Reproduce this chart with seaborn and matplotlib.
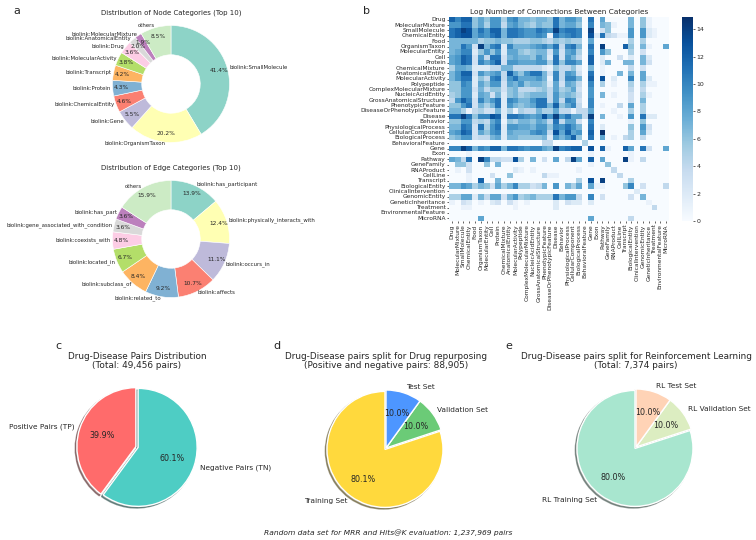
import numpy as np
import pandas as pd
import seaborn as sns
import matplotlib
matplotlib.use("Agg")
import matplotlib.pyplot as plt

FIG_W, FIG_H = 756, 540

# node / edge donuts
node_labels = ["biolink:SmallMolecule", "biolink:OrganismTaxon", "biolink:Gene", "biolink:ChemicalEntity",
               "biolink:Protein", "biolink:Transcript", "biolink:MolecularActivity", "biolink:Drug",
               "biolink:AnatomicalEntity", "biolink:MolecularMixture", "others"]
node_values = [41.4, 20.2, 5.5, 4.6, 4.3, 4.2, 3.8, 3.6, 2.0, 1.9, 8.5]

edge_labels = ["biolink:has_participant", "biolink:physically_interacts_with", "biolink:occurs_in",
               "biolink:affects", "biolink:related_to", "biolink:subclass_of", "biolink:located_in",
               "biolink:coexists_with", "biolink:gene_associated_with_condition", "biolink:has_part", "others"]
edge_values = [13.9, 12.4, 11.1, 10.7, 9.2, 8.4, 6.7, 4.8, 3.6, 3.6, 15.9]

# pies
pairs_labels = ["Positive Pairs (TP)", "Negative Pairs (TN)"]
pairs_values = [39.9, 60.1]
split_labels = ["Training Set", "Validation Set", "Test Set"]
split_values = [80.1, 9.96, 9.96]  # printed 80.1 / 10.0 / 10.0, the rounded ones don't add up to 100
rl_labels = ["RL Training Set", "RL Validation Set", "RL Test Set"]
rl_values = [80.0, 10.0, 10.0]

categories = ["Drug", "MolecularMixture", "SmallMolecule", "ChemicalEntity", "Food", "OrganismTaxon",
              "MolecularEntity", "Cell", "Protein", "ChemicalMixture", "AnatomicalEntity", "MolecularActivity",
              "Polypeptide", "ComplexMolecularMixture", "NucleicAcidEntity", "GrossAnatomicalStructure",
              "PhenotypicFeature", "DiseaseOrPhenotypicFeature", "Disease", "Behavior", "PhysiologicalProcess",
              "CellularComponent", "BiologicalProcess", "BehavioralFeature", "Gene", "Exon", "Pathway",
              "GeneFamily", "RNAProduct", "CellLine", "Transcript", "BiologicalEntity", "ClinicalIntervention",
              "GenomicEntity", "GeneticInheritance", "Treatment", "EnvironmentalFeature", "MicroRNA"]

# log number of connections
log_connections = [
    [12,10,12,12,6,8,6,9,9,5,9,10,7,7,6,7,7,6,11,7,9,9,7,0,11,0,8,0,0,0,0,7,0,6,1,0,0,0],
    [9,9,11,11,6,8,5,9,9,4,8,9,7,6,5,7,6,6,11,7,8,8,6,0,10,0,7,6,1,0,0,7,0,6,1,0,0,0],
    [11,12,14,13,8,11,9,12,12,7,11,11,10,9,9,11,10,9,14,10,11,11,10,0,14,0,3,6,0,0,0,9,0,9,2,1,0,0],
    [11,12,13,13,8,10,9,11,12,7,11,11,10,9,9,10,9,1,11,9,10,11,10,0,13,2,11,4,3,1,1,9,0,9,2,1,0,0],
    [7,7,7,7,7,5,6,6,7,6,6,5,5,5,6,6,5,4,6,5,6,5,5,0,8,0,0,0,0,0,0,5,0,5,0,0,0,0],
    [7,7,11,9,3,14,7,10,11,2,10,7,7,7,8,9,10,8,11,4,10,11,7,0,11,0,14,0,0,0,12,6,0,7,1,0,0,8],
    [7,8,10,10,2,6,9,6,9,2,8,8,6,5,6,7,7,3,9,3,8,9,5,0,10,0,9,6,0,0,0,5,0,3,0,0,0,0],
    [8,9,12,11,3,9,4,11,11,3,7,8,7,7,6,9,7,2,11,3,9,7,4,0,12,0,2,0,0,3,0,2,0,7,2,0,0,0],
    [8,9,12,11,3,10,8,10,12,3,9,9,8,8,8,9,9,5,11,6,10,10,8,0,12,0,2,7,0,0,7,7,0,7,3,0,0,0],
    [5,8,8,7,2,2,2,4,4,7,7,4,4,4,4,4,2,1,6,4,4,6,2,0,7,0,1,0,0,0,0,4,0,3,0,0,0,0],
    [7,9,12,12,3,9,7,8,9,4,12,8,6,9,11,11,7,3,10,4,9,8,3,0,11,0,1,0,0,7,0,7,0,8,0,0,0,0],
    [7,9,11,11,2,6,4,10,11,4,9,11,8,8,8,9,7,1,10,4,10,10,7,0,12,0,13,0,2,0,0,10,0,8,2,0,0,0],
    [6,6,10,9,2,8,6,9,9,3,8,7,9,6,7,7,6,2,8,3,8,7,4,0,10,0,5,0,1,0,0,5,0,5,1,1,0,0],
    [6,6,9,9,3,7,4,6,6,3,6,7,4,4,4,5,6,4,8,5,6,8,3,0,9,0,0,0,0,0,0,4,0,4,0,0,0,0],
    [5,6,9,9,2,8,7,3,7,2,6,7,5,6,7,7,7,4,9,6,7,6,4,0,9,0,7,0,1,0,0,3,0,5,1,0,0,0],
    [4,9,12,10,3,10,7,9,11,2,10,9,7,7,9,11,11,4,9,4,10,9,3,0,10,0,0,0,0,0,0,3,0,7,0,0,0,0],
    [6,6,9,11,3,7,5,7,11,2,9,7,6,7,8,11,11,7,12,6,8,10,4,0,10,0,1,0,0,4,0,8,0,5,0,0,0,0],
    [7,7,5,1,4,5,3,3,7,2,5,1,5,4,4,7,5,5,8,4,4,1,4,4,8,0,0,0,1,0,0,5,0,5,0,0,0,0],
    [11,11,14,11,6,10,10,13,12,2,11,11,10,9,8,9,13,9,14,9,11,8,8,4,14,0,7,0,0,1,0,9,0,11,2,2,0,0],
    [6,6,9,9,4,5,4,8,10,1,6,5,7,7,6,8,7,4,11,4,8,8,3,0,10,0,0,0,0,0,0,1,0,6,0,0,0,0],
    [7,7,11,10,3,11,5,9,11,2,9,9,8,8,7,9,9,6,10,9,11,9,7,0,11,0,2,0,0,0,0,6,0,9,3,0,0,0],
    [8,9,12,11,3,8,6,9,10,2,8,7,7,7,9,10,9,4,13,8,12,8,9,0,12,0,15,0,0,0,0,5,0,8,2,0,0,0],
    [6,7,9,9,3,4,4,7,8,2,7,7,6,6,6,6,7,2,9,7,9,12,6,0,11,0,8,0,1,0,4,5,0,4,0,0,0,0],
    [0,0,0,0,0,0,0,0,0,0,0,0,0,0,0,0,4,4,0,0,0,0,0,5,0,0,0,0,0,0,0,0,0,0,0,0,0,0],
    [10,10,14,12,7,10,9,12,12,7,11,11,10,9,10,10,8,7,14,10,11,12,12,0,13,0,12,1,0,0,12,8,0,11,3,0,0,8],
    [0,0,0,1,0,0,0,0,0,0,0,0,0,0,0,0,0,0,0,0,0,0,0,0,1,0,0,0,0,0,0,1,0,0,0,0,0,0],
    [8,7,4,11,0,14,10,4,4,3,3,13,5,0,7,0,3,0,8,0,4,14,8,0,12,0,8,0,0,0,14,1,0,4,0,0,0,0],
    [0,6,6,3,0,0,6,0,7,0,0,0,0,0,0,0,0,0,0,0,0,0,0,0,1,0,0,6,0,0,0,0,0,0,0,0,0,0],
    [0,1,0,3,0,0,0,0,0,0,0,2,1,0,1,0,0,0,0,0,0,0,1,0,0,0,0,0,4,0,0,0,0,0,0,0,0,0],
    [0,0,0,1,0,0,0,3,0,0,6,0,0,0,0,0,4,1,1,0,0,0,0,0,0,0,0,0,0,4,0,0,0,0,0,0,0,0],
    [0,0,0,1,0,12,0,0,7,0,0,0,0,0,0,0,0,0,0,0,0,0,5,0,13,0,14,0,0,0,0,5,0,0,0,0,0,0],
    [7,7,9,8,5,7,6,3,8,5,7,10,5,5,3,4,7,0,9,0,7,5,8,0,8,1,1,0,0,0,6,10,0,3,0,0,0,4],
    [0,0,0,0,0,0,0,0,0,0,0,0,0,0,0,0,0,0,0,0,0,0,0,0,0,0,0,0,0,0,0,0,2,0,0,0,0,0],
    [5,5,8,8,2,7,4,8,8,3,7,9,5,6,7,5,5,5,11,7,9,9,4,0,10,0,3,0,0,0,0,3,0,7,0,0,0,0],
    [1,0,3,2,0,1,0,2,3,0,3,1,0,1,0,0,0,0,2,0,3,2,2,0,2,0,0,0,0,0,0,0,0,0,1,0,0,0],
    [0,0,1,1,0,0,0,0,0,0,0,1,0,0,0,0,0,0,2,0,0,0,0,0,0,0,0,0,0,0,0,0,0,0,0,4,0,0],
    [0,0,0,0,0,0,0,0,0,0,0,0,0,0,0,0,0,0,0,0,0,0,0,0,0,0,0,0,0,0,0,0,0,0,0,0,0,0],
    [0,0,0,0,0,8,0,0,0,0,0,0,0,0,0,0,0,0,0,0,0,0,0,0,8,0,0,0,0,0,0,4,0,0,0,0,0,0],
]

sns.set_theme(style="ticks")
plt.rcParams["font.family"] = ["DejaVu Sans"]


def px_axes(fig, left, top, width, height):
    return fig.add_axes([left / FIG_W, 1 - (top + height) / FIG_H, width / FIG_W, height / FIG_H])


def pie_axes(fig, cx, cy, r):
    # pie() leaves limits at +-1.25, so the box is 2.5 radii wide
    return px_axes(fig, cx - 1.25 * r, cy - 1.25 * r, 2.5 * r, 2.5 * r)


def draw_donut(fig, cx, cy, r, values, labels, title, title_y):
    ax = pie_axes(fig, cx, cy, r)
    _, texts, autotexts = ax.pie(values, labels=labels, colors=sns.color_palette("Set3", 11), autopct="%1.1f%%",
                                 startangle=90, counterclock=False, pctdistance=0.85, labeldistance=1.03,
                                 wedgeprops={"width": 0.5, "edgecolor": "white", "linewidth": 0.4})
    plt.setp(texts, fontsize=3.85)
    plt.setp(autotexts, fontsize=4.2)
    ax.set_title(title, fontsize=5.05, y=(cy + 1.25 * r - title_y) / (2.5 * r), va="center", pad=0)


def draw_pie(fig, cx, cy, r, values, labels, colors, explode, title, pct_dist=0.6):
    ax = pie_axes(fig, cx, cy, r)
    _, texts, autotexts = ax.pie(values, labels=labels, colors=colors, explode=explode, autopct="%1.1f%%",
                                 startangle=90, shadow=True, pctdistance=pct_dist)
    plt.setp(texts, fontsize=5.3)
    plt.setp(autotexts, fontsize=5.8)
    ax.set_title(title, fontsize=6.4, y=(cy + 1.25 * r - 361) / (2.5 * r), va="center", pad=0, linespacing=1.1)


fig = plt.figure(figsize=(FIG_W / 100, FIG_H / 100), dpi=100)

draw_donut(fig, 171, 84, 58.5, node_values, node_labels, "Distribution of Node Categories (Top 10)", 13)
draw_donut(fig, 171, 239, 58.5, edge_values, edge_labels, "Distribution of Edge Categories (Top 10)", 168)

draw_pie(fig, 137, 447, 59, pairs_values, pairs_labels, ["#FF6B6B", "#4ECDC4"], (0.02, 0.02),
         "Drug-Disease Pairs Distribution\n(Total: 49,456 pairs)")
draw_pie(fig, 386, 448, 58, split_values, split_labels, ["#FFD93D", "#6BCB77", "#4D96FF"], (0.03, 0, 0),
         "Drug-Disease pairs split for Drug repurposing\n(Positive and negative pairs: 88,905)", pct_dist=0.63)
draw_pie(fig, 636, 447, 58, rl_values, rl_labels, ["#A8E6CF", "#DCEDC1", "#FFD3B6"], (0.03, 0, 0),
         "Drug-Disease pairs split for Reinforcement Learning\n(Total: 7,374 pairs)", pct_dist=0.63)

# heatmap
df = pd.DataFrame(np.array(log_connections, dtype=float), index=categories, columns=categories)
ax_hm = px_axes(fig, 449, 17, 220, 204)
ax_cb = px_axes(fig, 682, 17, 11, 204)
sns.heatmap(df, ax=ax_hm, cbar_ax=ax_cb, cmap="Blues", vmin=0, vmax=14.9, xticklabels=True, yticklabels=True)
ax_hm.set_title("Log Number of Connections Between Categories", fontsize=5.3, pad=2)
ax_hm.tick_params(axis="both", labelsize=4.2, length=1.5, width=0.5, pad=1)
ax_hm.tick_params(axis="x", labelrotation=90)
ax_hm.tick_params(axis="y", labelrotation=0)
ax_cb.tick_params(labelsize=4.5, length=1.5, width=0.5, pad=1)
for side in ax_cb.spines.values():
    side.set_visible(False)

for letter, x, y in [("a", 17, 11), ("b", 367, 11), ("c", 58, 346), ("d", 277, 346), ("e", 509, 346)]:
    fig.text(x / FIG_W, 1 - y / FIG_H, letter, fontsize=8, ha="center", va="center")

fig.text(388 / FIG_W, 1 - 533 / FIG_H, "Random data set for MRR and Hits@K evaluation: 1,237,969 pairs",
         fontsize=5.4, style="italic", ha="center", va="center")

fig.savefig("out.png", dpi=100)
